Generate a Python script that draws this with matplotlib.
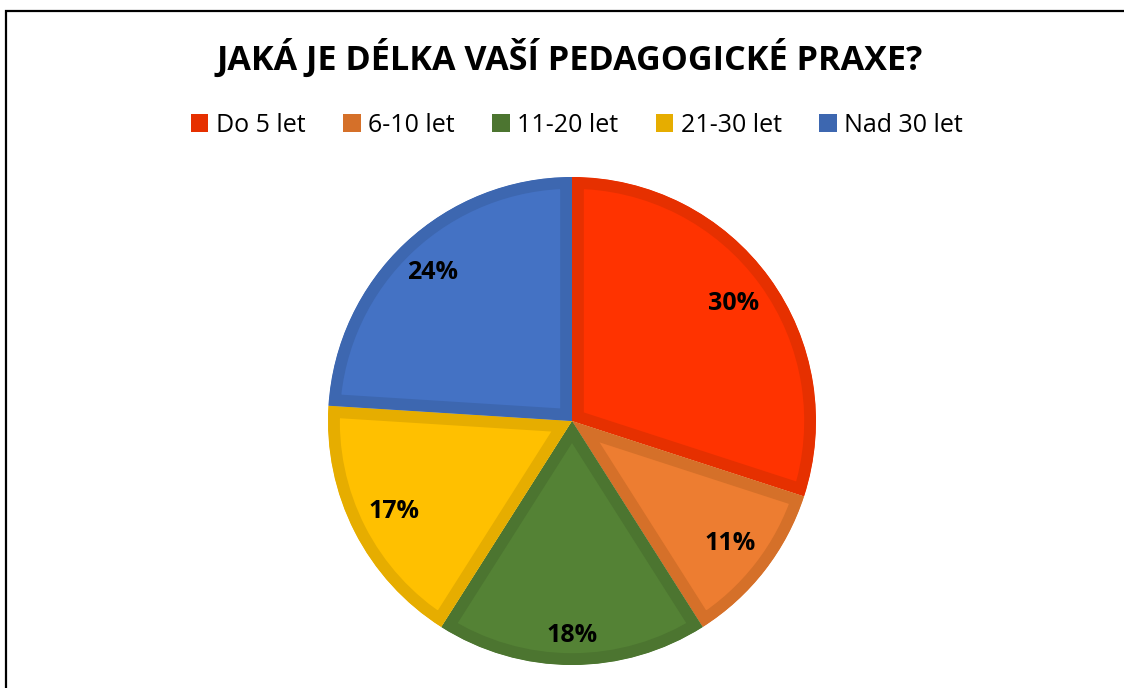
import matplotlib.pyplot as plt
from matplotlib.patches import Rectangle, Patch

# Data
kategorie = ['Do 5 let', '6-10 let', '11-20 let', '21-30 let', 'Nad 30 let']
podily = [30, 11, 18, 17, 24]
barvy = ['#FF3300', '#ED7D31', '#548235', '#FFC000', '#4472C4']
okraje = ['#E63000', '#D57029', '#4C7530', '#E6AD00', '#3D67B0']

plt.rcParams['font.family'] = ['Open Sans', 'DejaVu Sans']

W, H = 1124, 688
fig = plt.figure(figsize=(W / 100, H / 100), dpi=100)

# ramecek grafu (pravy a spodni okraj jsou mimo obrazek)
fig.patches.append(Rectangle((6 / W, -0.1), 1.2, (H - 11) / H + 0.1,
                             transform=fig.transFigure, fill=False,
                             edgecolor='black', linewidth=1.6))

cx, cy, r = 572, H - 421, 244
ax = fig.add_axes([(cx - r) / W, (cy - r) / H, 2 * r / W, 2 * r / H])

wedges, texty, pct = ax.pie(podily, colors=barvy, startangle=90, counterclock=False,
                            autopct='%d%%', pctdistance=0.82, radius=1,
                            textprops=dict(fontsize=18, fontweight='bold', color='black'))
# okraj vysecí jen uvnitr (oriznuti tahu tvarem vysece)
for w, ec in zip(wedges, okraje):
    w.set_edgecolor(ec)
    w.set_linewidth(17)
    w.set_clip_on(True)
    w.set_clip_path(w)

# posun popisku 18 % blize k okraji
vzdal = [1.0, 1.0, 1.07, 1.0, 1.02]
for t, k in zip(pct, vzdal):
    x, y = t.get_position()
    t.set_position((x * k, y * k))

ax.set_xlim(-1, 1)
ax.set_ylim(-1, 1)
ax.set_aspect('equal')
ax.axis('off')

fig.text(570 / W, 1 - 58 / H, 'JAKÁ JE DÉLKA VAŠÍ PEDAGOGICKÉ PRAXE?',
         ha='center', va='center', fontsize=24.6, fontweight='bold')

handles = [Patch(facecolor=c, edgecolor='none') for c in okraje]
fig.legend(handles, kategorie, loc='center', bbox_to_anchor=(577 / W, 1 - 125 / H),
           ncol=5, frameon=False, fontsize=18, handlelength=0.7, handleheight=0.7,
           handletextpad=0.3, columnspacing=1.5)

fig.savefig('out.png', dpi=100)
